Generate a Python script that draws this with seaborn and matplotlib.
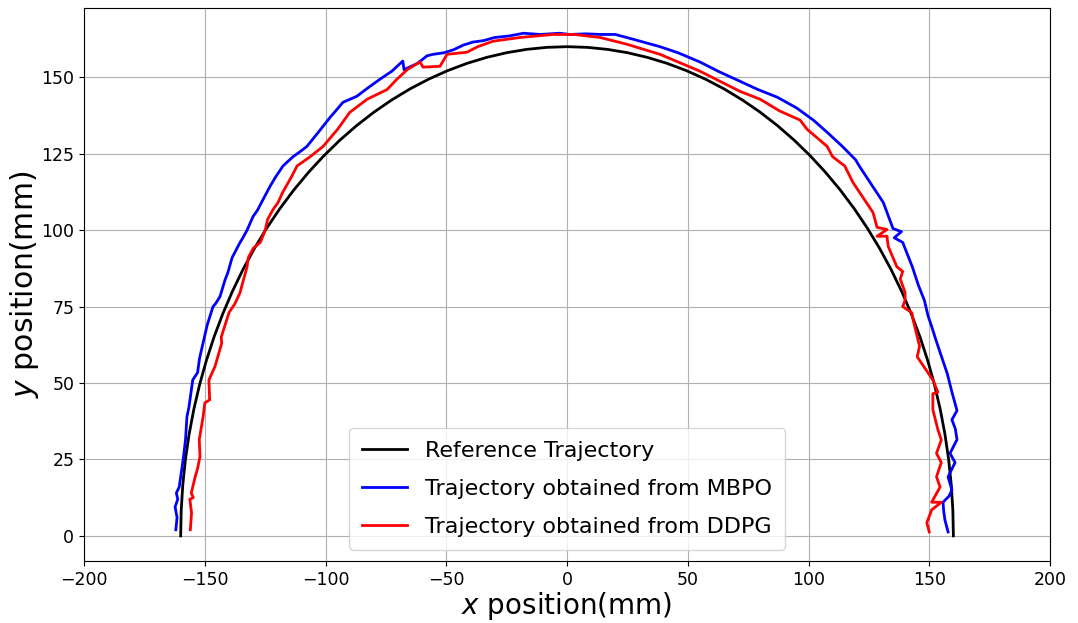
import matplotlib
matplotlib.use("Agg")
import matplotlib.pyplot as plt
import seaborn as sns

# Reference trajectory (semicircle, radius 160 mm), read point by point
x_ref = [-160.0, -159.78, -159.12, -158.03, -156.50, -154.55, -152.17, -149.37, -146.17,
         -142.56, -138.56, -134.19, -129.44, -124.34, -118.90, -113.14, -107.06, -100.69,
         -94.05, -87.14, -80.0, -72.64, -65.08, -57.34, -49.44, -41.41, -33.27, -25.03,
         -16.72, -8.37, 0.0, 8.37, 16.72, 25.03, 33.27, 41.41, 49.44, 57.34, 65.08,
         72.64, 80.0, 87.14, 94.05, 100.69, 107.06, 113.14, 118.90, 124.34, 129.44,
         134.19, 138.56, 142.56, 146.17, 149.37, 152.17, 154.55, 156.50, 158.03,
         159.12, 159.78, 160.0]
y_ref = [0.0, 8.37, 16.72, 25.03, 33.27, 41.41, 49.44, 57.34, 65.08,
         72.64, 80.0, 87.14, 94.05, 100.69, 107.06, 113.14, 118.90, 124.34,
         129.44, 134.19, 138.56, 142.56, 146.17, 149.37, 152.17, 154.55, 156.50, 158.03,
         159.12, 159.78, 160.0, 159.78, 159.12, 158.03, 156.50, 154.55, 152.17, 149.37, 146.17,
         142.56, 138.56, 134.19, 129.44, 124.34, 118.90, 113.14, 107.06, 100.69, 94.05,
         87.14, 80.0, 72.64, 65.08, 57.34, 49.44, 41.41, 33.27, 25.03,
         16.72, 8.37, 0.0]

# MBPO trajectory
x_mbpo = [-162.0, -161.5, -162.3, -161.2, -161.8, -160.6, -159.4, -158.8, -158.0, -157.4,
          -156.6, -155.0, -153.0, -152.2, -150.7, -149.0, -146.6, -145.5, -143.7, -141.6,
          -140.5, -138.7, -135.4, -134.6, -132.5, -130.0, -128.2, -125.9, -123.0, -120.6,
          -117.6, -113.5, -110.8, -107.7, -103.0, -98.0, -95.8, -92.8, -87.0, -82.5,
          -77.4, -72.5, -68.0, -67.5, -62.0, -58.0, -55.5, -51.0, -47.0, -43.0,
          -39.0, -34.5, -30.0, -24.0, -18.0, -11.0, -3.0, 1.0, 8.0, 14.0,
          20.0, 28.0, 38.5, 46.0, 55.0, 63.0, 71.6, 79.0, 87.0, 95.0,
          102.0, 108.0, 114.0, 119.5, 121.0, 126.0, 131.0, 135.0, 138.5, 135.5,
          139.0, 141.0, 143.0, 145.5, 148.0, 149.5, 151.0, 152.8, 154.5, 157.5,
          159.4, 161.5, 159.4, 160.8, 161.5, 158.6, 160.7, 157.8, 159.4, 158.2,
          155.7, 156.0, 156.5, 157.8]
y_mbpo = [2.0, 6.0, 9.5, 12.0, 14.0, 16.0, 22.6, 26.0, 31.4, 39.0,
          42.0, 51.0, 53.4, 58.0, 63.2, 69.0, 75.0, 76.0, 78.3, 83.8,
          86.0, 91.0, 96.0, 97.0, 100.0, 104.5, 106.5, 110.0, 114.3, 117.5,
          121.0, 124.0, 125.5, 127.4, 132.0, 137.0, 139.0, 141.8, 143.8, 146.5,
          149.4, 152.0, 155.3, 152.5, 154.5, 157.0, 157.5, 158.0, 159.0, 160.5,
          161.5, 162.0, 163.0, 163.5, 164.4, 164.0, 164.4, 164.0, 164.2, 164.0,
          164.0, 162.3, 160.0, 158.0, 155.0, 151.8, 148.7, 146.0, 143.5, 140.0,
          136.0, 131.8, 127.4, 123.0, 121.0, 115.0, 109.0, 100.5, 99.5, 97.5,
          96.0, 92.0, 88.0, 82.0, 77.0, 72.0, 68.5, 64.0, 60.0, 53.0,
          47.0, 41.0, 38.0, 35.0, 31.5, 27.0, 24.0, 19.3, 15.0, 13.0,
          11.0, 8.0, 5.2, 1.3]

# DDPG trajectory
x_ddpg = [-156.0, -155.5, -156.2, -154.8, -155.6, -154.0, -153.0, -152.0, -152.3, -150.7,
          -150.0, -148.0, -148.3, -145.8, -143.0, -143.2, -140.0, -137.5, -135.4, -134.6,
          -132.5, -132.0, -130.0, -127.0, -125.0, -124.0, -121.7, -119.7, -118.0, -114.0,
          -111.8, -106.4, -101.0, -95.0, -90.0, -82.8, -74.5, -70.4, -66.0, -60.9,
          -59.6, -52.6, -49.7, -41.4, -37.0, -30.6, -19.5, -5.8, 3.0, 13.7,
          24.8, 38.5, 55.0, 71.6, 80.0, 88.0, 96.5, 99.4, 107.7, 110.0,
          115.0, 118.4, 126.7, 128.4, 132.5, 128.4, 132.5, 133.0, 136.6, 139.0,
          138.0, 140.0, 140.0, 139.0, 142.8, 143.3, 144.0, 146.0, 145.0, 151.5,
          153.6, 151.5, 151.5, 153.6, 155.0, 153.0, 155.0, 153.0, 154.5, 151.0,
          155.0, 151.0, 149.0, 150.0]
y_ddpg = [2.0, 7.5, 12.0, 12.5, 14.0, 19.3, 22.0, 26.0, 31.5, 39.0,
          43.5, 44.5, 51.0, 55.4, 63.0, 65.0, 73.0, 76.0, 79.6, 82.0,
          88.0, 91.0, 94.0, 96.0, 100.0, 103.5, 106.8, 109.0, 112.0, 117.6,
          121.0, 124.0, 127.4, 133.0, 138.5, 142.8, 146.0, 149.4, 152.6, 155.0,
          153.3, 153.6, 157.5, 158.2, 160.0, 161.8, 163.0, 164.0, 164.0, 163.0,
          160.8, 157.5, 152.0, 145.4, 142.8, 139.0, 136.0, 133.0, 127.4, 124.0,
          121.0, 115.6, 105.8, 100.9, 100.2, 98.0, 98.0, 94.7, 88.0, 86.5,
          84.0, 79.6, 77.0, 75.0, 73.0, 70.7, 68.5, 62.0, 58.6, 51.0,
          47.0, 46.5, 41.3, 34.7, 31.4, 27.0, 24.0, 19.3, 16.0, 11.0,
          11.0, 8.5, 4.3, 1.3]

fig, ax = plt.subplots(figsize=(10.78, 6.23), dpi=100)
fig.subplots_adjust(left=0.078, right=0.974, top=0.987, bottom=0.0995)

sns.lineplot(x=x_ref, y=y_ref, sort=False, estimator=None, color="black", lw=2,
             label="Reference Trajectory", ax=ax)
sns.lineplot(x=x_mbpo, y=y_mbpo, sort=False, estimator=None, color="blue", lw=2,
             label="Trajectory obtained from MBPO", ax=ax)
sns.lineplot(x=x_ddpg, y=y_ddpg, sort=False, estimator=None, color="red", lw=2,
             label="Trajectory obtained from DDPG", ax=ax)

ax.set_xlim(-200, 200)
ax.set_xticks([-200, -150, -100, -50, 0, 50, 100, 150, 200])
ax.grid(True, color="#b0b0b0", lw=0.8)
ax.tick_params(labelsize=12.5)
ax.set_xlabel(r"$x$ position(mm)", fontsize=20, labelpad=1)
ax.set_ylabel(r"$y$ position(mm)", fontsize=21.5, labelpad=0)
ax.legend(loc="lower center", fontsize=16, labelspacing=0.8, borderpad=0.6)

plt.savefig("out.png")
